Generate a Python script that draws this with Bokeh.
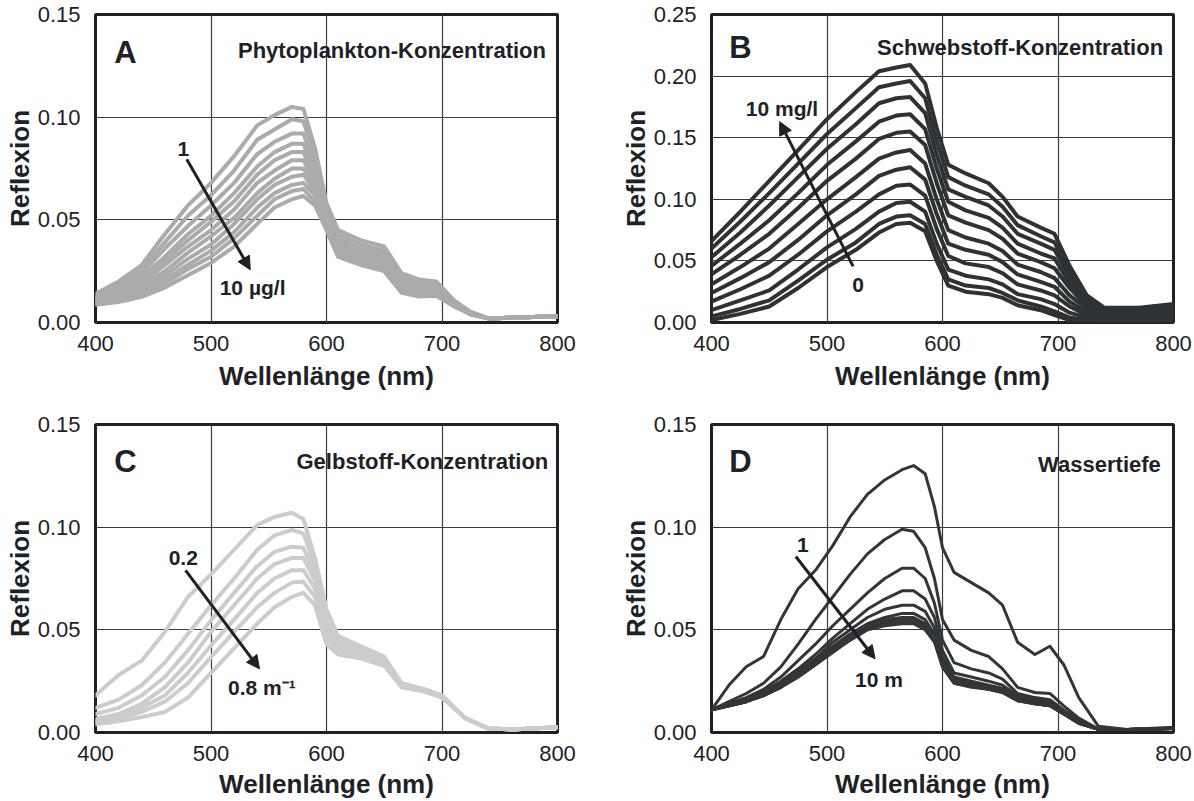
from bokeh.plotting import figure
from bokeh.layouts import column, row
from bokeh.models import Range1d, FixedTicker, NumeralTickFormatter, Arrow, NormalHead
from bokeh.core.properties import value
from bokeh.embed import file_html
from bokeh.resources import INLINE

FONT = "Liberation Sans"
INK = "#1e2226"

# ---------------- data ----------------
x_ticks = [400, 500, 600, 700, 800]
y_ticks_015 = [0.0, 0.05, 0.10, 0.15]
y_ticks_025 = [0.0, 0.05, 0.10, 0.15, 0.20, 0.25]

# Panel A: Phytoplankton 1 ... 10 ug/l
wl_a = [400, 420, 440, 460, 480, 500, 520, 540, 555, 570, 580, 590, 600, 610, 630, 650, 665, 680, 695, 710, 725, 740, 800]
phyto_01 = [0.014, 0.020, 0.028, 0.043, 0.057, 0.068, 0.081, 0.096, 0.101, 0.105, 0.104, 0.085, 0.058, 0.045, 0.040, 0.037, 0.024, 0.021, 0.020, 0.011, 0.005, 0.002, 0.003]
phyto_02 = [0.013, 0.018, 0.026, 0.039, 0.052, 0.062, 0.074, 0.089, 0.094, 0.099, 0.098, 0.081, 0.056, 0.043, 0.038, 0.035, 0.023, 0.020, 0.019, 0.010, 0.005, 0.002, 0.003]
phyto_03 = [0.012, 0.017, 0.024, 0.036, 0.047, 0.057, 0.068, 0.082, 0.088, 0.092, 0.092, 0.077, 0.054, 0.041, 0.036, 0.034, 0.021, 0.019, 0.018, 0.010, 0.005, 0.002, 0.003]
phyto_04 = [0.012, 0.016, 0.022, 0.032, 0.043, 0.052, 0.063, 0.076, 0.083, 0.087, 0.087, 0.074, 0.053, 0.040, 0.035, 0.032, 0.020, 0.018, 0.017, 0.010, 0.005, 0.002, 0.003]
phyto_05 = [0.011, 0.015, 0.020, 0.030, 0.040, 0.049, 0.059, 0.072, 0.079, 0.083, 0.083, 0.071, 0.052, 0.039, 0.034, 0.031, 0.019, 0.017, 0.017, 0.010, 0.005, 0.002, 0.003]
phyto_06 = [0.011, 0.014, 0.019, 0.028, 0.037, 0.045, 0.055, 0.068, 0.074, 0.079, 0.079, 0.069, 0.050, 0.037, 0.033, 0.030, 0.018, 0.016, 0.016, 0.009, 0.004, 0.002, 0.003]
phyto_07 = [0.010, 0.013, 0.018, 0.025, 0.034, 0.042, 0.051, 0.063, 0.070, 0.075, 0.075, 0.066, 0.049, 0.036, 0.032, 0.029, 0.018, 0.015, 0.015, 0.009, 0.004, 0.002, 0.003]
phyto_08 = [0.010, 0.012, 0.016, 0.023, 0.031, 0.038, 0.048, 0.060, 0.067, 0.071, 0.072, 0.064, 0.048, 0.035, 0.031, 0.028, 0.017, 0.015, 0.015, 0.009, 0.004, 0.002, 0.003]
phyto_09 = [0.0095, 0.012, 0.015, 0.021, 0.028, 0.035, 0.044, 0.056, 0.063, 0.067, 0.068, 0.062, 0.047, 0.034, 0.030, 0.027, 0.016, 0.014, 0.014, 0.0085, 0.004, 0.002, 0.003]
phyto_10 = [0.009, 0.011, 0.014, 0.019, 0.026, 0.032, 0.041, 0.052, 0.060, 0.064, 0.065, 0.059, 0.046, 0.033, 0.029, 0.026, 0.015, 0.013, 0.014, 0.008, 0.004, 0.002, 0.003]
phyto_11 = [0.0086, 0.010, 0.0125, 0.017, 0.023, 0.029, 0.037, 0.048, 0.056, 0.060, 0.0616, 0.057, 0.045, 0.032, 0.028, 0.025, 0.0145, 0.0127, 0.013, 0.008, 0.004, 0.002, 0.003]
phyto_curves = [phyto_01, phyto_02, phyto_03, phyto_04, phyto_05, phyto_06,
                phyto_07, phyto_08, phyto_09, phyto_10, phyto_11]

# Panel B: Schwebstoff 0 ... 10 mg/l
wl_b = [400, 425, 450, 475, 500, 525, 545, 560, 572, 585, 595, 605, 620, 640, 652, 665, 685, 697, 710, 725, 740, 770, 800]
sed_00 = [0.002, 0.007, 0.013, 0.028, 0.045, 0.059, 0.073, 0.080, 0.081, 0.074, 0.050, 0.030, 0.025, 0.023, 0.020, 0.014, 0.010, 0.006, 0.002, 0.001, 0.001, 0.001, 0.001]
sed_01 = [0.005, 0.011, 0.018, 0.034, 0.051, 0.065, 0.080, 0.086, 0.087, 0.080, 0.055, 0.035, 0.030, 0.028, 0.024, 0.018, 0.013, 0.009, 0.004, 0.002, 0.0015, 0.0015, 0.002]
sed_02 = [0.010, 0.018, 0.026, 0.043, 0.061, 0.076, 0.090, 0.097, 0.098, 0.090, 0.064, 0.043, 0.038, 0.035, 0.031, 0.023, 0.019, 0.015, 0.008, 0.004, 0.002, 0.002, 0.003]
sed_03 = [0.017, 0.027, 0.038, 0.055, 0.074, 0.090, 0.104, 0.111, 0.112, 0.103, 0.076, 0.054, 0.048, 0.045, 0.040, 0.031, 0.026, 0.022, 0.013, 0.006, 0.004, 0.004, 0.004]
sed_04 = [0.024, 0.036, 0.049, 0.067, 0.087, 0.104, 0.119, 0.124, 0.126, 0.116, 0.088, 0.064, 0.059, 0.055, 0.049, 0.039, 0.033, 0.029, 0.017, 0.008, 0.005, 0.005, 0.006]
sed_05 = [0.031, 0.045, 0.060, 0.080, 0.100, 0.118, 0.133, 0.138, 0.140, 0.129, 0.100, 0.075, 0.069, 0.064, 0.058, 0.047, 0.041, 0.036, 0.022, 0.011, 0.006, 0.006, 0.007]
sed_06 = [0.039, 0.055, 0.072, 0.093, 0.115, 0.133, 0.149, 0.154, 0.155, 0.144, 0.113, 0.087, 0.081, 0.075, 0.068, 0.056, 0.049, 0.044, 0.028, 0.013, 0.007, 0.007, 0.009]
sed_07 = [0.046, 0.064, 0.083, 0.105, 0.128, 0.147, 0.163, 0.168, 0.169, 0.157, 0.125, 0.098, 0.091, 0.085, 0.077, 0.064, 0.056, 0.052, 0.032, 0.016, 0.009, 0.009, 0.011]
sed_08 = [0.053, 0.073, 0.095, 0.118, 0.141, 0.161, 0.178, 0.182, 0.183, 0.170, 0.136, 0.108, 0.102, 0.095, 0.086, 0.072, 0.064, 0.059, 0.037, 0.018, 0.010, 0.010, 0.012]
sed_09 = [0.060, 0.082, 0.105, 0.129, 0.153, 0.174, 0.191, 0.194, 0.196, 0.182, 0.147, 0.118, 0.111, 0.104, 0.094, 0.079, 0.070, 0.065, 0.042, 0.020, 0.011, 0.011, 0.014]
sed_10 = [0.066, 0.090, 0.115, 0.140, 0.165, 0.187, 0.204, 0.207, 0.209, 0.194, 0.158, 0.128, 0.121, 0.113, 0.102, 0.086, 0.077, 0.072, 0.046, 0.022, 0.012, 0.012, 0.015]
sed_curves = [sed_00, sed_01, sed_02, sed_03, sed_04, sed_05, sed_06, sed_07, sed_08, sed_09, sed_10]

# Panel C: Gelbstoff 0.2 ... 0.8 1/m
wl_c = [400, 420, 440, 460, 480, 500, 520, 540, 555, 570, 580, 590, 600, 610, 630, 650, 665, 685, 700, 720, 740, 760, 800]
cdom_02 = [0.018, 0.028, 0.035, 0.049, 0.066, 0.077, 0.089, 0.101, 0.105, 0.107, 0.104, 0.085, 0.060, 0.047, 0.042, 0.037, 0.024, 0.021, 0.018, 0.007, 0.002, 0.0015, 0.0025]
cdom_03 = [0.012, 0.016, 0.023, 0.034, 0.048, 0.062, 0.075, 0.089, 0.096, 0.0987, 0.097, 0.081, 0.058, 0.045, 0.041, 0.036, 0.024, 0.021, 0.018, 0.007, 0.002, 0.0015, 0.0025]
cdom_04 = [0.009, 0.012, 0.018, 0.027, 0.040, 0.0546, 0.068, 0.081, 0.088, 0.0905, 0.090, 0.077, 0.055, 0.043, 0.040, 0.035, 0.0235, 0.021, 0.018, 0.007, 0.002, 0.0015, 0.0025]
cdom_05 = [0.0065, 0.009, 0.014, 0.022, 0.034, 0.049, 0.062, 0.075, 0.082, 0.085, 0.085, 0.074, 0.052, 0.042, 0.039, 0.035, 0.023, 0.0205, 0.0175, 0.007, 0.002, 0.0015, 0.0025]
cdom_06 = [0.0057, 0.008, 0.012, 0.018, 0.029, 0.0424, 0.055, 0.068, 0.075, 0.079, 0.079, 0.070, 0.049, 0.041, 0.038, 0.034, 0.023, 0.0205, 0.0175, 0.007, 0.002, 0.0015, 0.0025]
cdom_07 = [0.005, 0.007, 0.010, 0.015, 0.024, 0.0367, 0.049, 0.061, 0.068, 0.073, 0.0735, 0.066, 0.046, 0.040, 0.037, 0.033, 0.0225, 0.020, 0.017, 0.007, 0.002, 0.0015, 0.0025]
cdom_08 = [0.004, 0.0055, 0.0075, 0.010, 0.017, 0.029, 0.041, 0.053, 0.061, 0.066, 0.068, 0.062, 0.043, 0.038, 0.036, 0.0325, 0.022, 0.020, 0.017, 0.007, 0.002, 0.0015, 0.0025]
cdom_curves = [cdom_02, cdom_03, cdom_04, cdom_05, cdom_06, cdom_07, cdom_08]

# Panel D: Wassertiefe 1 ... 10 m
wl_d = [400, 415, 430, 445, 460, 475, 490, 505, 520, 535, 550, 565, 575, 585, 593, 600, 610, 625, 640, 652, 665, 680, 693, 705, 718, 735, 760, 800]
depth_01 = [0.011, 0.023, 0.032, 0.037, 0.055, 0.070, 0.079, 0.091, 0.105, 0.116, 0.123, 0.128, 0.130, 0.126, 0.110, 0.090, 0.078, 0.073, 0.068, 0.062, 0.044, 0.038, 0.042, 0.033, 0.017, 0.003, 0.0015, 0.0025]
depth_02 = [0.011, 0.015, 0.019, 0.024, 0.032, 0.043, 0.055, 0.066, 0.077, 0.087, 0.094, 0.099, 0.098, 0.090, 0.075, 0.055, 0.045, 0.040, 0.037, 0.031, 0.022, 0.0195, 0.019, 0.013, 0.007, 0.0017, 0.0015, 0.002]
depth_03 = [0.011, 0.014, 0.017, 0.021, 0.027, 0.035, 0.043, 0.052, 0.060, 0.068, 0.075, 0.080, 0.080, 0.075, 0.063, 0.045, 0.034, 0.031, 0.029, 0.026, 0.019, 0.017, 0.016, 0.011, 0.006, 0.0015, 0.0015, 0.002]
depth_04 = [0.011, 0.0135, 0.016, 0.020, 0.025, 0.031, 0.038, 0.046, 0.053, 0.060, 0.065, 0.069, 0.069, 0.065, 0.056, 0.040, 0.029, 0.027, 0.025, 0.023, 0.018, 0.016, 0.015, 0.010, 0.005, 0.0015, 0.0015, 0.002]
depth_05 = [0.011, 0.013, 0.0155, 0.019, 0.024, 0.030, 0.036, 0.044, 0.050, 0.056, 0.060, 0.062, 0.062, 0.059, 0.051, 0.037, 0.027, 0.025, 0.023, 0.0215, 0.017, 0.0155, 0.014, 0.010, 0.005, 0.0015, 0.0015, 0.002]
depth_06 = [0.011, 0.013, 0.015, 0.0185, 0.023, 0.029, 0.035, 0.042, 0.048, 0.053, 0.056, 0.058, 0.058, 0.055, 0.048, 0.035, 0.026, 0.024, 0.022, 0.021, 0.0165, 0.015, 0.014, 0.0095, 0.005, 0.0015, 0.0015, 0.002]
depth_07 = [0.011, 0.013, 0.015, 0.018, 0.023, 0.028, 0.034, 0.041, 0.047, 0.052, 0.055, 0.056, 0.056, 0.053, 0.047, 0.034, 0.025, 0.023, 0.0215, 0.0205, 0.016, 0.0145, 0.0135, 0.009, 0.0045, 0.0015, 0.0015, 0.002]
depth_08 = [0.011, 0.013, 0.015, 0.018, 0.022, 0.028, 0.034, 0.040, 0.046, 0.051, 0.054, 0.055, 0.055, 0.052, 0.046, 0.033, 0.025, 0.023, 0.021, 0.020, 0.016, 0.014, 0.013, 0.009, 0.0045, 0.0015, 0.0015, 0.002]
depth_09 = [0.011, 0.013, 0.015, 0.018, 0.022, 0.027, 0.033, 0.040, 0.045, 0.050, 0.053, 0.054, 0.054, 0.051, 0.045, 0.032, 0.024, 0.0225, 0.021, 0.0195, 0.0155, 0.014, 0.013, 0.009, 0.0045, 0.0015, 0.0015, 0.002]
depth_10 = [0.011, 0.013, 0.015, 0.018, 0.022, 0.027, 0.033, 0.039, 0.045, 0.050, 0.052, 0.053, 0.053, 0.050, 0.044, 0.032, 0.024, 0.022, 0.021, 0.0195, 0.0155, 0.014, 0.013, 0.009, 0.0045, 0.0015, 0.0015, 0.002]
depth_curves = [depth_01, depth_02, depth_03, depth_04, depth_05, depth_06, depth_07, depth_08, depth_09, depth_10]

# annotation texts and anchor values (wavelength, reflectance)
panel_letters = ["A", "B", "C", "D"]
panel_titles = ["Phytoplankton-Konzentration", "Schwebstoff-Konzentration",
                "Gelbstoff-Konzentration", "Wassertiefe"]
letter_pos = [(426, 0.1316), (425, 0.223), (426, 0.132), (425, 0.132)]
title_pos = [(790, 0.1324), (791, 0.223), (792, 0.132), (789, 0.1305)]
arrow_from = [(479, 0.0795), (522.6, 0.0455), (478, 0.079), (473, 0.0857)]
arrow_to = [(534, 0.0257), (459, 0.163), (542, 0.031), (541.6, 0.0359)]
start_labels = ["1", "0", "0.2", "1"]
start_label_pos = [(476, 0.0845), (527, 0.0306), (476, 0.085), (479, 0.0913)]
end_labels = ["10 µg/l", "10 mg/l", "0.8 m⁻¹", "10 m"]
end_label_pos = [(536, 0.0172), (461, 0.174), (544, 0.022), (545, 0.026)]


def make_panel(i, wl, curves, color, lw, ymax, yticks, right, top, bottom, lab_stand):
    p = figure(frame_width=462, frame_height=308,
               x_range=Range1d(400, 800), y_range=Range1d(0, ymax),
               output_backend="svg", toolbar_location=None,
               min_border_left=95, min_border_right=right,
               min_border_top=top, min_border_bottom=bottom)
    p.background_fill_color = "white"
    p.border_fill_color = "white"
    p.outline_line_color = INK
    p.outline_line_width = 3

    p.xaxis.ticker = FixedTicker(ticks=x_ticks)
    p.yaxis.ticker = FixedTicker(ticks=yticks)
    p.yaxis.formatter = NumeralTickFormatter(format="0.00")
    for ax in (p.xaxis[0], p.yaxis[0]):
        ax.axis_line_color = None
        ax.major_tick_line_color = None
        ax.minor_tick_line_color = None
        ax.major_label_text_font = FONT
        ax.major_label_text_font_size = "22px"
        ax.major_label_text_color = INK
        ax.axis_label_text_font = FONT
        ax.axis_label_text_font_size = "26px"
        ax.axis_label_text_font_style = "bold"
        ax.axis_label_text_color = INK
    p.xaxis.axis_label = "Wellenlänge (nm)"
    p.yaxis.axis_label = "Reflexion"
    p.xaxis.major_label_standoff = 7
    p.xaxis.axis_label_standoff = lab_stand
    p.yaxis.major_label_standoff = 9
    p.yaxis.axis_label_standoff = 0

    p.grid.grid_line_color = "#3a3d40"
    p.grid.grid_line_width = 1.2

    for c in curves:
        p.line(wl, c, line_color=color, line_width=lw, line_join="round", line_cap="round")

    (ax0, ay0), (ax1, ay1) = arrow_from[i], arrow_to[i]
    p.add_layout(Arrow(end=NormalHead(size=13, fill_color=INK, line_color=INK),
                       x_start=ax0, y_start=ay0, x_end=ax1, y_end=ay1,
                       line_color=INK, line_width=3))

    def txt(pos, s, size, align="center"):
        p.text(x=[pos[0]], y=[pos[1]], text=[s], text_font=value(FONT),
               text_font_size=size, text_font_style="bold", text_color=INK,
               text_align=align, text_baseline="middle")

    txt(letter_pos[i], panel_letters[i], "31px", "center")
    txt(title_pos[i], panel_titles[i], "22px", "right")
    txt(start_label_pos[i], start_labels[i], "21px")
    txt(end_label_pos[i], end_labels[i], "21px")
    return p


pa = make_panel(0, wl_a, phyto_curves, "#a9acab", 4, 0.15, y_ticks_015, 59, 14, 88, 7)
pb = make_panel(1, wl_b, sed_curves, "#2f3234", 4, 0.25, y_ticks_025, 20, 14, 88, 7)
pc = make_panel(2, wl_c, cdom_curves, "#cbcdcc", 4, 0.15, y_ticks_015, 59, 14, 68, 5)
pd = make_panel(3, wl_d, depth_curves, "#333638", 3, 0.15, y_ticks_015, 20, 14, 68, 5)

layout = column(row(pa, pb), row(pc, pd))
open("out.html", "w").write(file_html(layout, INLINE))
